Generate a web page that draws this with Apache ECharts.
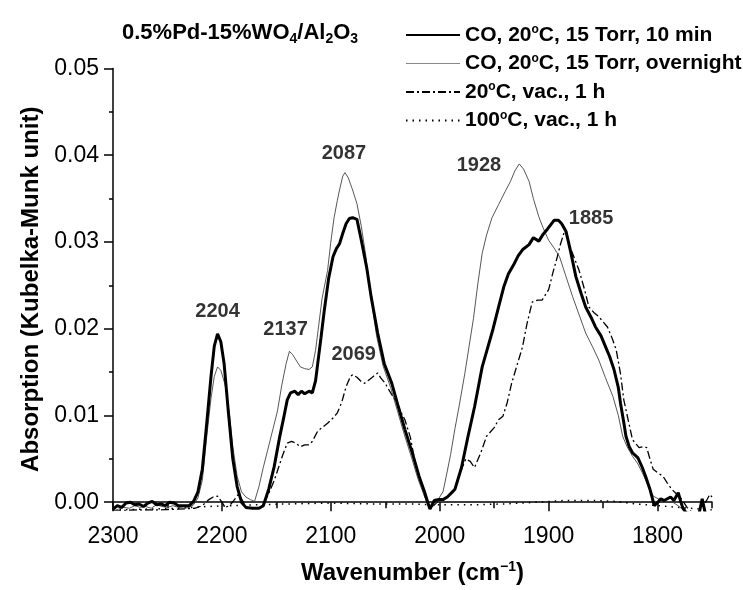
<!DOCTYPE html>
<html><head><meta charset="utf-8">
<script src="https://cdn.jsdelivr.net/npm/echarts@6/dist/echarts.min.js"></script>
<style>html,body{margin:0;padding:0;background:#fff}#c{width:743px;height:590px}</style>
</head><body><div id="c"></div>
<script>
// ---- Data (wavenumber in cm-1, absorption in Kubelka-Munk units) ----
const seriesNames = ['CO, 20°C, 15 Torr, 10 min', 'CO, 20°C, 15 Torr, overnight', '20°C, vac., 1 h', '100°C, vac., 1 h'];

const wn10min = [2300,2296,2292,2288,2284,2280,2276,2272,2268,2264,2260,2256,2252,2248,2244,2240,2235,2230,2226,2222,2218,2214,2210,2207,2204,2201,2198,2194,2190,2186,2182,2178,2172,2166,2162,2157,2152,2147,2143,2140,2137,2133,2130,2127,2124,2120,2117,2114,2112,2109,2106,2102,2098,2095,2092,2089,2086,2083,2080,2076,2072,2067,2063,2057,2051,2044,2038,2032,2025,2019,2014,2009,2005,2001,1997,1993,1989,1986,1980,1974,1968,1961,1956,1951,1946,1941,1937,1932,1928,1924,1918,1914,1909,1905,1901,1898,1895,1891,1888,1884,1880,1875,1870,1866,1861,1857,1852,1848,1844,1840,1836,1834,1831,1829,1826,1823,1818,1814,1811,1807,1803,1799,1797,1794,1791,1788,1785,1781,1779,1777,1774,1768,1762,1759,1756,1750];
const val10min = [-0.0008,-0.0004,-0.0006,-0.0001,0.0000,-0.0003,-0.0002,-0.0005,-0.0001,0.0001,-0.0003,-0.0002,-0.0004,0.0000,-0.0001,-0.0004,-0.0004,-0.0004,0.0001,0.0012,0.0038,0.0090,0.0145,0.0180,0.0194,0.0185,0.0160,0.0103,0.0050,0.0018,0.0000,-0.0006,-0.0007,-0.0007,-0.0004,0.0015,0.0041,0.0075,0.0099,0.0118,0.0126,0.0128,0.0124,0.0128,0.0125,0.0128,0.0126,0.0140,0.0160,0.0190,0.0221,0.0258,0.0283,0.0292,0.0298,0.0310,0.0321,0.0327,0.0328,0.0326,0.0302,0.0270,0.0237,0.0195,0.0160,0.0137,0.0110,0.0084,0.0056,0.0030,0.0012,-0.0008,0.0002,0.0003,0.0003,0.0006,0.0011,0.0015,0.0040,0.0076,0.0110,0.0156,0.0178,0.0200,0.0225,0.0249,0.0263,0.0274,0.0284,0.0291,0.0297,0.0305,0.0301,0.0309,0.0315,0.0320,0.0325,0.0325,0.0321,0.0312,0.0290,0.0260,0.0240,0.0225,0.0213,0.0202,0.0192,0.0180,0.0168,0.0153,0.0132,0.0114,0.0092,0.0076,0.0064,0.0057,0.0051,0.0040,0.0030,0.0015,-0.0004,0.0001,0.0004,0.0002,0.0004,0.0006,0.0002,0.0011,0.0002,-0.0006,-0.0012,-0.0015,-0.0014,0.0004,-0.0014,-0.0016];

const wnOvernight = [2300,2295,2290,2285,2280,2275,2270,2265,2260,2255,2250,2245,2240,2235,2230,2226,2222,2218,2214,2210,2207,2204,2201,2197,2193,2190,2186,2182,2178,2174,2170,2166,2162,2158,2153,2149,2145,2141,2138,2135,2132,2128,2124,2120,2117,2114,2112,2108,2103,2100,2097,2094,2092,2089,2087,2084,2080,2076,2072,2068,2064,2058,2052,2045,2039,2033,2026,2020,2015,2010,2005,2001,1997,1994,1990,1986,1982,1977,1973,1969,1965,1961,1957,1952,1946,1940,1935,1931,1927,1923,1918,1914,1909,1905,1900,1895,1890,1884,1878,1872,1866,1860,1854,1848,1841,1836,1832,1828,1823,1818,1814,1809,1804,1798,1792,1786,1780,1776,1770];
const valOvernight = [-0.0010,-0.0008,-0.0006,-0.0007,-0.0004,-0.0006,-0.0005,-0.0007,-0.0003,-0.0005,-0.0006,-0.0004,-0.0006,-0.0007,-0.0006,-0.0003,0.0005,0.0025,0.0075,0.0120,0.0145,0.0156,0.0152,0.0135,0.0100,0.0064,0.0030,0.0012,0.0006,0.0003,0.0001,0.0018,0.0040,0.0060,0.0085,0.0105,0.0135,0.0160,0.0174,0.0170,0.0164,0.0156,0.0154,0.0153,0.0156,0.0175,0.0195,0.0235,0.0267,0.0300,0.0328,0.0348,0.0360,0.0376,0.0380,0.0374,0.0360,0.0344,0.0318,0.0285,0.0245,0.0192,0.0157,0.0132,0.0106,0.0080,0.0052,0.0027,0.0010,-0.0006,-0.0004,0.0004,0.0012,0.0030,0.0055,0.0085,0.0112,0.0148,0.0180,0.0212,0.0252,0.0287,0.0308,0.0328,0.0343,0.0358,0.0370,0.0382,0.0390,0.0384,0.0370,0.0350,0.0329,0.0316,0.0302,0.0293,0.0283,0.0260,0.0237,0.0216,0.0195,0.0180,0.0164,0.0144,0.0122,0.0100,0.0076,0.0064,0.0053,0.0044,0.0034,0.0020,0.0007,0.0003,0.0001,0.0000,-0.0005,-0.0010,-0.0015];

const wnVac20 = [2300,2280,2260,2240,2225,2218,2212,2208,2204,2200,2197,2193,2189,2185,2182,2178,2170,2163,2157,2152,2148,2144,2140,2136,2132,2128,2124,2120,2117,2112,2107,2103,2098,2094,2090,2086,2082,2080,2076,2072,2069,2065,2061,2057,2054,2050,2046,2041,2036,2032,2027,2023,2018,2014,2010,2005,2000,1993,1986,1980,1976,1972,1968,1962,1957,1950,1946,1942,1938,1934,1929,1924,1920,1915,1910,1906,1900,1896,1892,1889,1886,1883,1879,1872,1867,1863,1858,1854,1850,1846,1842,1838,1834,1831,1827,1823,1819,1817,1813,1810,1807,1804,1800,1795,1791,1787,1783,1780,1776,1773,1768,1763,1758,1755,1752,1750];
const valVac20 = [-0.0010,-0.0009,-0.0009,-0.0008,-0.0007,-0.0004,0.0003,0.0006,0.0007,0.0000,-0.0006,-0.0004,0.0002,0.0009,0.0004,-0.0005,-0.0007,-0.0005,0.0010,0.0025,0.0040,0.0055,0.0068,0.0070,0.0068,0.0064,0.0066,0.0066,0.0070,0.0082,0.0087,0.0091,0.0097,0.0103,0.0115,0.0133,0.0145,0.0147,0.0144,0.0139,0.0137,0.0141,0.0145,0.0149,0.0143,0.0137,0.0128,0.0118,0.0105,0.0095,0.0075,0.0049,0.0025,0.0008,-0.0005,-0.0003,0.0003,0.0006,0.0015,0.0038,0.0050,0.0047,0.0040,0.0058,0.0076,0.0086,0.0095,0.0099,0.0115,0.0137,0.0158,0.0179,0.0205,0.0231,0.0233,0.0233,0.0245,0.0265,0.0283,0.0298,0.0310,0.0306,0.0290,0.0267,0.0245,0.0225,0.0218,0.0214,0.0208,0.0202,0.0190,0.0176,0.0148,0.0118,0.0095,0.0072,0.0066,0.0063,0.0064,0.0063,0.0050,0.0038,0.0034,0.0030,0.0022,0.0015,0.0010,0.0007,0.0000,-0.0006,-0.0012,-0.0012,-0.0004,0.0002,0.0009,0.0006];

const wnVac100 = [2300,2270,2240,2215,2190,2170,2140,2100,2060,2030,2000,1970,1940,1910,1885,1860,1840,1820,1800,1780,1760,1750];
const valVac100 = [-0.0009,-0.0008,-0.0007,-0.0005,-0.0004,-0.0003,-0.0002,-0.0001,-0.0002,-0.0002,-0.0003,-0.0003,-0.0002,0.0000,0.0002,0.0002,0.0001,-0.0002,-0.0004,-0.0006,-0.0008,-0.0009];

// peak annotations
const peakText = ['2204', '2137', '2087', '2069', '1928', '1885'];
const peakWn   = [2204, 2141.5, 2088, 2079, 1964, 1861];
const peakVal  = [0.0220, 0.0199, 0.0402, 0.0170, 0.0388, 0.0327];

// axis ticks
const xMajor = [2300, 2200, 2100, 2000, 1900, 1800];
const xMinor = [2250, 2150, 2050, 1950, 1850, 1750];
const yMajor = [0.00, 0.01, 0.02, 0.03, 0.04, 0.05];
const yMinor = [0.005, 0.015, 0.025, 0.035, 0.045];
const xMin = 1750, xMax = 2300, yMin = -0.0009, yMax = 0.05;

// ---- Chart ----
const FONT = 'Liberation Sans, Arial, sans-serif';
const zip = (a, b) => a.map((v, i) => [v, b[i]]);
const chart = echarts.init(document.getElementById('c'), null, {renderer: 'canvas'});

const axisLineStyle = {color: '#000', width: 1.5};

const option = {
  animation: false,
  backgroundColor: '#fff',
  textStyle: {fontFamily: FONT, color: '#000'},
  grid: {left: 113, right: 31, top: 68.5, bottom: 79.3},
  title: {
    text: '0.5%Pd-15%WO{s|4}/Al{s|2}O{s|3}',
    left: 117, top: 15,
    textStyle: {
      fontFamily: FONT, fontWeight: 'bold', fontSize: 22, color: '#000',
      rich: {
        s: {fontFamily: FONT, fontWeight: 'bold', fontSize: 14, color: '#000', verticalAlign: 'bottom', padding: [12, 0, 0, 0]}
      }
    }
  },
  legend: {
    orient: 'vertical', left: 400, top: 19,
    itemWidth: 54, itemHeight: 14, itemGap: 7,
    itemStyle: {opacity: 0},
    data: [
      {name: seriesNames[0]},
      {name: seriesNames[1], lineStyle: {color: '#888', width: 1}},
      {name: seriesNames[2]},
      {name: seriesNames[3]}
    ],
    formatter: n => n.replace('°', '{o|o}'),
    textStyle: {
      fontFamily: FONT, fontWeight: 'bold', fontSize: 21, color: '#000',
      rich: {o: {fontFamily: FONT, fontWeight: 'bold', fontSize: 12, color: '#000', verticalAlign: 'top', padding: [0, 0, 10, 0]}}
    }
  },
  xAxis: [{
    type: 'value', min: xMin, max: xMax, inverse: true,
    name: '{n|Wavenumber (cm}{s|−1}{n|)}', nameLocation: 'middle', nameGap: 50,
    nameTextStyle: {
      rich: {
        n: {fontFamily: FONT, fontWeight: 'bold', fontSize: 24, color: '#000'},
        s: {fontFamily: FONT, fontWeight: 'bold', fontSize: 14, color: '#000', verticalAlign: 'top', padding: [0, 0, 12, 0]}
      }
    },
    axisLine: {show: true, lineStyle: axisLineStyle},
    axisTick: {show: true, inside: false, length: 9, lineStyle: axisLineStyle, customValues: xMajor},
    axisLabel: {show: true, customValues: xMajor, margin: 15, fontFamily: FONT, fontSize: 23, color: '#000',
      formatter: v => String(v)},
    splitLine: {show: false}
  }, {
    type: 'value', min: xMin, max: xMax, inverse: true, position: 'bottom',
    axisLine: {show: false},
    axisTick: {show: true, inside: false, length: 6, lineStyle: axisLineStyle, customValues: xMinor},
    axisLabel: {show: false},
    splitLine: {show: false}
  }],
  yAxis: [{
    type: 'value', min: yMin, max: yMax,
    name: 'Absorption (Kubelka-Munk unit)', nameLocation: 'middle', nameGap: 70, nameRotate: 90,
    nameTextStyle: {fontFamily: FONT, fontWeight: 'bold', fontSize: 24, color: '#000'},
    axisLine: {show: true, lineStyle: axisLineStyle},
    axisTick: {show: true, inside: false, length: 9, lineStyle: axisLineStyle, customValues: yMajor},
    axisLabel: {show: true, customValues: yMajor, margin: 14, fontFamily: FONT, fontSize: 23, color: '#000',
      formatter: v => v.toFixed(2)},
    splitLine: {show: false}
  }, {
    type: 'value', min: yMin, max: yMax, position: 'left',
    axisLine: {show: false},
    axisTick: {show: true, inside: false, length: 4, lineStyle: axisLineStyle, customValues: yMinor},
    axisLabel: {show: false},
    splitLine: {show: false}
  }],
  series: [
    {name: seriesNames[3], type: 'line', data: zip(wnVac100, valVac100), symbol: 'none', clip: true,
      lineStyle: {color: '#000', width: 1.5, type: [1.5, 5]}, itemStyle: {color: '#000'}},
    {name: seriesNames[2], type: 'line', data: zip(wnVac20, valVac20), symbol: 'none', clip: true,
      lineStyle: {color: '#000', width: 1.3, type: [8, 3, 2, 3]}, itemStyle: {color: '#000'}},
    {name: seriesNames[1], type: 'line', data: zip(wnOvernight, valOvernight), symbol: 'none', clip: true,
      lineStyle: {color: '#444', width: 0.9}, itemStyle: {color: '#444'}},
    {name: seriesNames[0], type: 'line', data: zip(wn10min, val10min), symbol: 'none', clip: true,
      lineStyle: {color: '#000', width: 3}, itemStyle: {color: '#000'}},
    {name: 'peaks', type: 'scatter', data: zip(peakWn, peakVal), symbolSize: 0, silent: true,
      label: {show: true, position: 'inside', formatter: p => peakText[p.dataIndex],
        fontFamily: FONT, fontWeight: 'bold', fontSize: 20, color: '#000'}}
  ]
};
chart.setOption(option);
</script></body></html>
